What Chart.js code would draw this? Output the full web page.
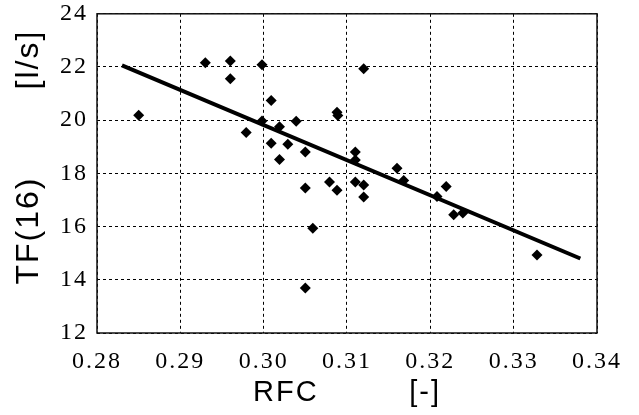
<!DOCTYPE html>
<html>
<head>
<meta charset="utf-8">
<script src="https://cdn.jsdelivr.net/npm/chart.js@4.4.1/dist/chart.umd.min.js"></script>
<style>
  html, body { margin: 0; padding: 0; background: #fff; }
  #wrap { width: 639px; height: 415px; }
</style>
</head>
<body>
<div id="wrap"><canvas id="chart-canvas" width="639" height="415"></canvas></div>
<script>
// measured points
const rfc = [0.2850, 0.2930, 0.2960, 0.2960, 0.2998, 0.3120, 0.3009, 0.3088, 0.3089,
             0.2998, 0.3039, 0.3019, 0.2979, 0.3009, 0.3029, 0.3050, 0.3019, 0.3110,
             0.3110, 0.3050, 0.3079, 0.3088, 0.3110, 0.3120, 0.3120, 0.3059, 0.3050,
             0.3160, 0.3168, 0.3208, 0.3219, 0.3228, 0.3239, 0.3328];
const tf = [20.19, 22.16, 22.23, 21.56, 22.08, 21.93, 20.74, 20.30, 20.18,
            19.97, 19.96, 19.75, 19.54, 19.13, 19.10, 18.80, 18.52, 18.80,
            18.50, 17.45, 17.68, 17.37, 17.68, 17.56, 17.11, 15.94, 13.69,
            18.19, 17.73, 17.13, 17.51, 16.45, 16.51, 14.93];

// regression line ends
const fitRfc = [0.283, 0.338];
const fitTf = [22.06, 14.80];

const xTicks = [0.28, 0.29, 0.30, 0.31, 0.32, 0.33, 0.34];
const yTicks = [12, 14, 16, 18, 20, 22, 24];

const serif = "'Liberation Serif', 'Times New Roman', serif";
const sans = "'Liberation Sans', Arial, sans-serif";

document.addEventListener("DOMContentLoaded", function () {
  const ctx = document.getElementById("chart-canvas").getContext("2d");

  const spacing = {
    id: "spacing",
    beforeLayout(chart) { chart.ctx.letterSpacing = "2px"; },
    beforeDraw(chart) { chart.ctx.letterSpacing = "2px"; }
  };

  // solid box round the plot
  const frame = {
    id: "frame",
    beforeDatasetsDraw(chart) {
      const a = chart.chartArea;
      const c = chart.ctx;
      c.save();
      c.setLineDash([]);
      c.lineWidth = 1.5;
      c.strokeStyle = "#111";
      c.strokeRect(a.left, a.top, a.right - a.left, a.bottom - a.top);
      c.restore();
    }
  };

  const points = rfc.map((x, i) => ({ x: x, y: tf[i] }));
  const fit = fitRfc.map((x, i) => ({ x: x, y: fitTf[i] }));

  new Chart(ctx, {
    type: "scatter",
    data: {
      datasets: [{
        type: "line",
        data: fit,
        borderColor: "#000",
        borderWidth: 4,
        pointRadius: 0,
        fill: false
      }, {
        data: points,
        pointStyle: "rectRot",
        pointRadius: 5.5,
        pointBackgroundColor: "#000",
        pointBorderColor: "#000",
        pointBorderWidth: 0
      }]
    },
    options: {
      responsive: false,
      animation: false,
      layout: { padding: { left: 0, right: 42, top: 13, bottom: 0 } },
      plugins: { legend: { display: false }, tooltip: { enabled: false } },
      scales: {
        x: {
          type: "linear",
          min: 0.28,
          max: 0.34,
          afterBuildTicks: (s) => { s.ticks = xTicks.map(v => ({ value: v })); },
          afterFit: (s) => { s.height = 82; },
          ticks: {
            color: "#000",
            padding: 17,
            font: { family: serif, size: 24, lineHeight: 1 },
            callback: (v) => Number(v).toFixed(2)
          },
          grid: { color: "#000", lineWidth: 1, drawTicks: false },
          border: { display: false, dash: [3, 3] },
          title: {
            display: true,
            text: "RFC         [-]",
            color: "#000",
            padding: { top: 0, bottom: 5 },
            font: { family: sans, size: 29 }
          }
        },
        y: {
          min: 12,
          max: 24,
          afterBuildTicks: (s) => { s.ticks = yTicks.map(v => ({ value: v })); },
          afterFit: (s) => { s.width = 97; },
          ticks: {
            color: "#000",
            padding: 9,
            font: { family: serif, size: 24, lineHeight: 0.4 }
          },
          grid: { color: "#000", lineWidth: 1, drawTicks: false },
          border: { display: false, dash: [3, 3] },
          title: {
            display: true,
            text: "   TF(16)        [l/s]",
            color: "#000",
            padding: { top: 10, bottom: 0 },
            font: { family: sans, size: 32 }
          }
        }
      }
    },
    plugins: [spacing, frame]
  });
});
</script>
</body>
</html>
